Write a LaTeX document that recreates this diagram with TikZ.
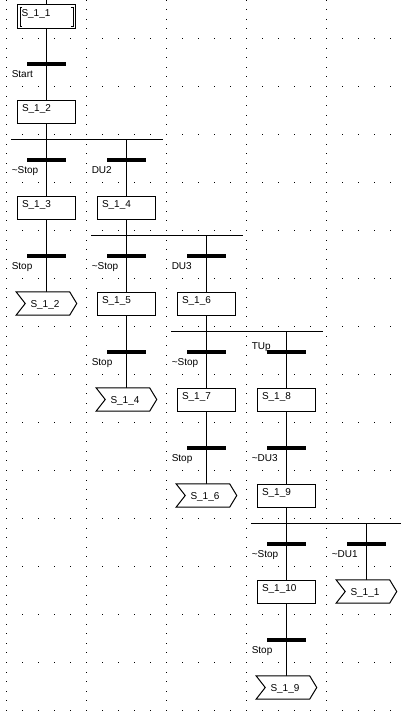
\documentclass[tikz,border=0pt]{standalone}
\usepackage{fontspec}
\setmainfont{Liberation Sans}
\usetikzlibrary{calc}
\tikzset{
  lbl/.style={font=\fontsize{7.5}{9}\selectfont},
  wire/.style={line width=0.75pt},
  stepbox/.style={lbl, draw, fill=white, line width=0.75pt, rectangle,
    text width=36.75pt, align=left, inner xsep=3.375pt, inner ysep=3pt,
    text height=5.25pt, text depth=6pt},
  initbox/.style={lbl, draw, fill=white, line width=0.75pt, rectangle,
    text width=37.5pt, align=left, inner xsep=3pt, inner ysep=3.75pt,
    text height=5.25pt, text depth=5.25pt},
  jumpnode/.style={lbl, rectangle, minimum width=45pt, minimum height=16.875pt,
    inner sep=0pt, text width=24pt, align=left, text height=5.25pt, text depth=0pt},
  bar/.style={fill=black, rectangle, minimum width=29.25pt, minimum height=3pt, inner sep=0pt},
  tlabel/.style={lbl, anchor=base west, inner sep=0pt},
  griddot/.style={fill=black}
}
\newcommand{\jumpoutline}[1]{%
  \draw[wire, fill=white] (#1.north west) -- ($(#1.west)+(9,0)$) -- (#1.south west)
    -- ($(#1.south east)+(-7,0)$) -- (#1.east) -- ($(#1.north east)+(-7,0)$) -- cycle;}
\begin{document}
\begin{tikzpicture}[x=0.75pt,y=-0.75pt]
\useasboundingbox (0,0) rectangle (401,714);
% dotted grid
\foreach \k in {0,...,4}{
  \foreach \m in {0,...,74}{
    \fill[griddot] ({6+80*\k},{0.1+9.6*\m-0.5}) rectangle ++(1,1);
  }
}
\foreach \r in {0,...,14}{
  \foreach \j in {0,...,24}{
    \fill[griddot] ({6+16*\j},{38+48*\r}) rectangle ++(1,1);
  }
}
% coordinates
\coordinate (top) at (46.5,0);
\coordinate (d1a) at (11,139);  \coordinate (d1b) at (163,139);
\coordinate (d2a) at (91,235);  \coordinate (d2b) at (243,235);
\coordinate (d3a) at (171,331); \coordinate (d3b) at (323,331);
\coordinate (d4a) at (251,523); \coordinate (d4b) at (401,523);
\coordinate (b1) at (126.5,139);
\coordinate (b2) at (206.5,235);
\coordinate (b3) at (286.5,331);
\coordinate (b4) at (366.5,523);
% transitions
\node[bar] (t1) at (46.5,64) {};
\node[bar] (t2) at (46.5,160) {};
\node[bar] (t3) at (126.5,160) {};
\node[bar] (t4) at (46.5,256) {};
\node[bar] (t5) at (126.5,256) {};
\node[bar] (t6) at (206.5,256) {};
\node[bar] (t7) at (126.5,352) {};
\node[bar] (t8) at (206.5,352) {};
\node[bar] (t9) at (286.5,352) {};
\node[bar] (t10) at (206.5,448) {};
\node[bar] (t11) at (286.5,448) {};
\node[bar] (t12) at (286.5,544) {};
\node[bar] (t13) at (366.5,544) {};
\node[bar] (t14) at (286.5,640) {};
% jump nodes (shape drawn later)
\node[jumpnode] (j1) at (46.5,303.5) {};
\node[jumpnode] (j2) at (126.5,399.5) {};
\node[jumpnode] (j3) at (206.5,495.5) {};
\node[jumpnode] (j4) at (366.5,591.5) {};
\node[jumpnode] (j5) at (286.5,687.5) {};
% steps (positions)
\node[initbox] (s11) at (46.5,16.5) {S\_1\_1};
% wires
\draw[wire] (d1a) -- (d1b);
\draw[wire] (d2a) -- (d2b);
\draw[wire] (d3a) -- (d3b);
\draw[wire] (d4a) -- (d4b);
\draw[wire] (top) -- (s11.north);
\draw[wire] (s11.south) -- (t1.center) -- (46.5,112) -- (t2.center) -- (46.5,208) -- (t4.center) -- (j1.north);
\draw[wire] (b1) -- (t3.center) -- (126.5,208) -- (t5.center) -- (126.5,304) -- (t7.center) -- (j2.north);
\draw[wire] (b2) -- (t6.center) -- (206.5,304) -- (t8.center) -- (206.5,400) -- (t10.center) -- (j3.north);
\draw[wire] (b3) -- (t9.center) -- (286.5,400) -- (t11.center) -- (286.5,496) -- (t12.center) -- (286.5,592) -- (t14.center) -- (j5.north);
\draw[wire] (b4) -- (t13.center) -- (j4.north);
% redraw bars on top
\foreach \t in {t1,t2,t3,t4,t5,t6,t7,t8,t9,t10,t11,t12,t13,t14}{
  \fill[black] (\t.north west) rectangle (\t.south east);
}
% steps
\node[initbox] (s11) at (46.5,16.5) {S\_1\_1};
\draw[wire] ($(s11.north west)+(5,3)$) -- ($(s11.north west)+(3,3)$) -- ($(s11.south west)+(3,-3)$) -- ($(s11.south west)+(5,-3)$);
\draw[wire] ($(s11.north east)+(-5,3)$) -- ($(s11.north east)+(-3,3)$) -- ($(s11.south east)+(-3,-3)$) -- ($(s11.south east)+(-5,-3)$);
\node[stepbox] (s12) at (46.5,112) {S\_1\_2};
\node[stepbox] (s13) at (46.5,208) {S\_1\_3};
\node[stepbox] (s14) at (126.5,208) {S\_1\_4};
\node[stepbox] (s15) at (126.5,304) {S\_1\_5};
\node[stepbox] (s16) at (206.5,304) {S\_1\_6};
\node[stepbox] (s17) at (206.5,400) {S\_1\_7};
\node[stepbox] (s18) at (286.5,400) {S\_1\_8};
\node[stepbox] (s19) at (286.5,496) {S\_1\_9};
\node[stepbox] (s110) at (286.5,592) {S\_1\_10};
% jumps
\jumpoutline{j1}\node[jumpnode] at (j1) {S\_1\_2};
\jumpoutline{j2}\node[jumpnode] at (j2) {S\_1\_4};
\jumpoutline{j3}\node[jumpnode] at (j3) {S\_1\_6};
\jumpoutline{j4}\node[jumpnode] at (j4) {S\_1\_1};
\jumpoutline{j5}\node[jumpnode] at (j5) {S\_1\_9};
% transition labels
\node[tlabel] (l1) at ($(t1.center)+(-35,13)$) {Start};
\node[tlabel] (l2) at ($(t2.center)+(-35,13)$) {\textasciitilde Stop};
\node[tlabel] (l3) at ($(t3.center)+(-35,13)$) {DU2};
\node[tlabel] (l4) at ($(t4.center)+(-35,13)$) {Stop};
\node[tlabel] (l5) at ($(t5.center)+(-35,13)$) {\textasciitilde Stop};
\node[tlabel] (l6) at ($(t6.center)+(-35,13)$) {DU3};
\node[tlabel] (l7) at ($(t7.center)+(-35,13)$) {Stop};
\node[tlabel] (l8) at ($(t8.center)+(-35,13)$) {\textasciitilde Stop};
\node[tlabel] (l9) at ($(t9.center)+(-35,-3)$) {TUp};
\node[tlabel] (l10) at ($(t10.center)+(-35,13)$) {Stop};
\node[tlabel] (l11) at ($(t11.center)+(-35,13)$) {\textasciitilde DU3};
\node[tlabel] (l12) at ($(t12.center)+(-35,13)$) {\textasciitilde Stop};
\node[tlabel] (l13) at ($(t13.center)+(-35,13)$) {\textasciitilde DU1};
\node[tlabel] (l14) at ($(t14.center)+(-35,13)$) {Stop};
\end{tikzpicture}
\end{document}
